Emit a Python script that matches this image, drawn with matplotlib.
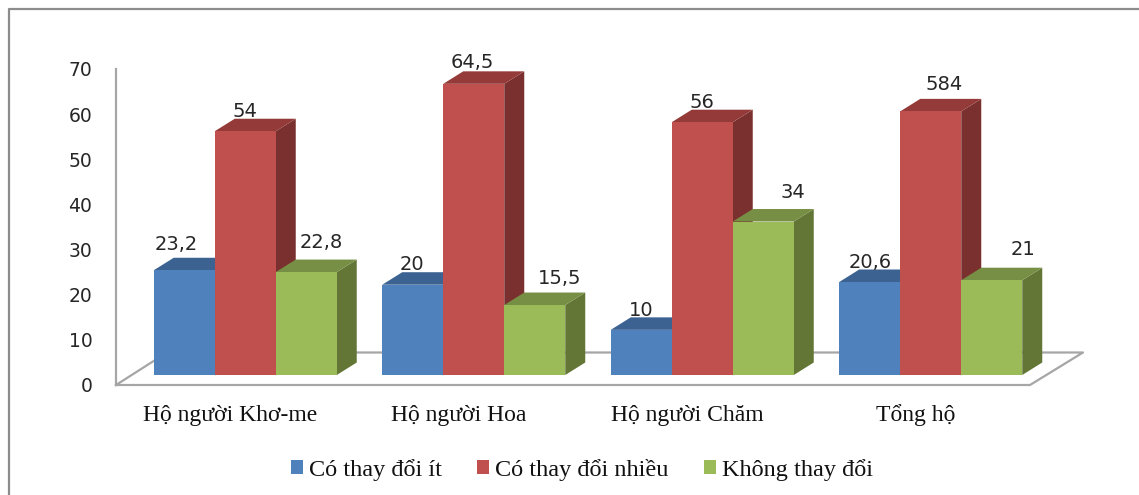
import matplotlib
matplotlib.use('Agg')
import matplotlib.pyplot as plt
from matplotlib.patches import Polygon, Rectangle
from matplotlib.lines import Line2D

W = 1139
H = 495

categories = ['Hộ người Khơ-me', 'Hộ người Hoa', 'Hộ người Chăm', 'Tổng hộ']
series_names = ['Có thay đổi ít', 'Có thay đổi nhiều', 'Không thay đổi']
it_vals = [23.2, 20, 10, 20.6]
nhieu_vals = [54, 64.5, 56, 58.4]
khong_vals = [22.8, 15.5, 34, 21]
it_labels = ['23,2', '20', '10', '20,6']
nhieu_labels = ['54', '64,5', '56', '584']
khong_labels = ['22,8', '15,5', '34', '21']
y_ticks = [0, 10, 20, 30, 40, 50, 60, 70]

front_cols = ['#4F81BD', '#C0504D', '#9BBB59']
top_cols = ['#3C6291', '#943B39', '#778F44']
side_cols = ['#2F4D72', '#7A302E', '#637636']

# label offsets from bar centre / bar top, in pixels
it_off = [(-8, 26), (-1, 20), (0, 19.5), (0, 20)]
nhieu_off = [(0, 20), (-1, 21), (0, 20), (13, 27)]
khong_off = [(15, 30), (25, 26.5), (30, 29), (31.5, 31)]

fig = plt.figure(figsize=(W / 100, H / 100), dpi=100)
fig.patch.set_facecolor('white')

# only the top and left edges of the frame are in the picture
fig.add_artist(Line2D([9 / W, 9 / W, 1], [0, 1 - 9 / H, 1 - 9 / H], transform=fig.transFigure,
                      color='#8C8C8C', linewidth=1.6))

ax = fig.add_axes([116 / W, 1 - 385 / H, 914 / W, 316 / H])
ax.set_xlim(-0.5, 3.5)
ax.set_ylim(0, 70)
ax.patch.set_visible(False)

px_x = 4 / 914
px_y = 70 / 316
bar_w = 61 * px_x
dx = 20 * px_x
dy = 12.5 * px_y
base = 10 * px_y
shift = 15 * px_x

# floor of the 3d box
floor_col = '#A6A6A6'
ax.plot([-0.5, 3.5, 3.5 + 53 * px_x, -0.5 + 51 * px_x, -0.5],
        [0, 0, 32.5 * px_y, 32.5 * px_y, 0], color=floor_col, lw=1.6, clip_on=False, zorder=1)

all_vals = [it_vals, nhieu_vals, khong_vals]
all_labels = [it_labels, nhieu_labels, khong_labels]
all_off = [it_off, nhieu_off, khong_off]

for i in range(len(categories)):
    for s in range(3):
        v = all_vals[s][i]
        cx = i + shift + (s - 1) * bar_w
        left = cx - bar_w / 2
        right = cx + bar_w / 2
        top = base + v
        z = 2 + i * 3 + (s * 0.5 if s < 2 else 1.5)
        ax.add_patch(Polygon([(right, base), (right + dx, base + dy), (right + dx, top + dy), (right, top)],
                             facecolor=side_cols[s], edgecolor='none', clip_on=False, zorder=z))
        ax.add_patch(Polygon([(left, top), (left + dx, top + dy), (right + dx, top + dy), (right, top)],
                             facecolor=top_cols[s], edgecolor='none', clip_on=False, zorder=z))
        ax.bar(cx, v, bar_w, bottom=base, color=front_cols[s], edgecolor='none', clip_on=False, zorder=z + 0.1)
        ox, oy = all_off[s][i]
        ax.annotate(all_labels[s][i], (cx, top), xytext=(ox * 0.72, oy * 0.72), textcoords='offset points',
                    ha='center', va='center', fontsize=14, color='#262626', zorder=30, annotation_clip=False)

ax.spines['top'].set_visible(False)
ax.spines['right'].set_visible(False)
ax.spines['bottom'].set_visible(False)
ax.spines['left'].set_color(floor_col)
ax.spines['left'].set_linewidth(1.6)

ax.set_yticks(y_ticks)
ax.set_xticks(range(len(categories)))
ax.set_xticklabels(categories, fontfamily='Liberation Serif', fontsize=17, color='#111111', va='baseline')
ax.tick_params(axis='y', length=0, pad=17, labelsize=13.5, labelcolor='#262626')
ax.tick_params(axis='x', length=0, pad=26)

handles = [Rectangle((0, 0), 1, 1, facecolor=c, edgecolor='none') for c in front_cols]
fig.legend(handles, series_names, loc='center', bbox_to_anchor=(582 / W, 1 - 470 / H), ncol=3, frameon=False,
           prop={'family': 'Liberation Serif', 'size': 17.5}, handlelength=0.5, handleheight=0.5,
           handletextpad=0.25, columnspacing=1.45, labelcolor='#111111')

fig.savefig('out.png', dpi=100)
